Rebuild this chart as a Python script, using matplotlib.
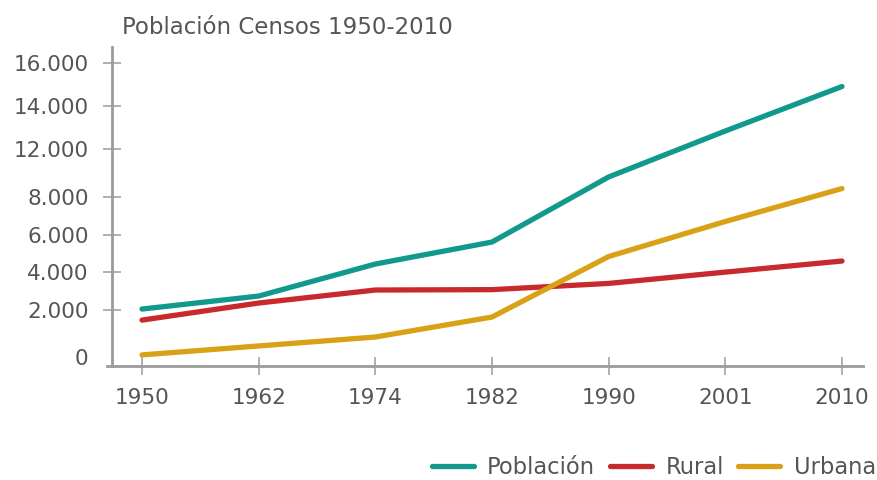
import matplotlib
matplotlib.use("Agg")
import matplotlib.pyplot as plt
import numpy as np

plt.rcParams['font.family'] = ['DejaVu Sans']

# años de censo (eje x, categórico)
anios = ["1950", "1962", "1974", "1982", "1990", "2001", "2010"]

# series (habitantes, miles)
poblacion = [2050, 2740, 4440, 5610, 9660, 12830, 14900]
rural = [1570, 2370, 3060, 3080, 3410, 4010, 4600]
urbana = [90, 470, 850, 1700, 4840, 6700, 8700]

# etiquetas del eje y (la escala original no es lineal, falta el 10.000)
y_vals = [0, 2000, 4000, 6000, 8000, 12000, 14000, 16000]
y_labels = ["0", "2.000", "4.000", "6.000", "8.000", "12.000", "14.000", "16.000"]
# altura de cada etiqueta sobre el eje, tal como está dibujada
y_slots = [9, 56, 93.7, 131.3, 169, 217.3, 260, 303.3]

c_pob = "#12998d"
c_rur = "#c8292d"
c_urb = "#d9a216"
gris = "#9b9b9b"
texto = "#555555"


def _lin(v, xs, ys):
    v = np.asarray(v, dtype=float)
    out = np.interp(v, xs, ys)
    lo_slope = (ys[1] - ys[0]) / (xs[1] - xs[0])
    hi_slope = (ys[-1] - ys[-2]) / (xs[-1] - xs[-2])
    out = np.where(v < xs[0], ys[0] + (v - xs[0]) * lo_slope, out)
    out = np.where(v > xs[-1], ys[-1] + (v - xs[-1]) * hi_slope, out)
    return out


def fwd(v):
    return _lin(v, y_vals, y_slots)


def inv(s):
    return _lin(s, y_slots, y_vals)


fig = plt.figure(figsize=(8.78, 4.80), dpi=100)
ax = fig.add_axes([107 / 878, 114 / 480, 756 / 878, 319 / 480])
ax.set_yscale('function', functions=(fwd, inv))

x = np.arange(len(anios))
lw = 3.8
ax.plot(x, poblacion, color=c_pob, lw=lw, solid_capstyle='round', solid_joinstyle='round', label="Población", zorder=3)
ax.plot(x, rural, color=c_rur, lw=lw, solid_capstyle='round', solid_joinstyle='round', label="Rural", zorder=3)
ax.plot(x, urbana, color=c_urb, lw=lw, solid_capstyle='round', solid_joinstyle='round', label="Urbana", zorder=4)

ax.set_xlim(-0.3, 6.18)
ax.set_ylim(float(inv(0)), float(inv(319)))

for s in ['top', 'right']:
    ax.spines[s].set_visible(False)
ax.spines['left'].set_position(('data', -0.26))
for s in ['left', 'bottom']:
    ax.spines[s].set_color(gris)
    ax.spines[s].set_linewidth(2)

ax.set_xticks(x)
ax.set_xticklabels(anios)
ax.set_yticks(y_vals)
ax.set_yticklabels(y_labels)
ax.yaxis.set_minor_locator(matplotlib.ticker.NullLocator())
ax.tick_params(axis='both', direction='inout', length=13, width=1.1, color=gris,
               labelcolor=texto, labelsize=15.5)
ax.tick_params(axis='y', pad=10)
ax.tick_params(axis='x', pad=9)
ax.yaxis.get_major_ticks()[0].tick1line.set_visible(False)

fig.text(122 / 878, 1 - 28 / 480, "Población Censos 1950-2010", fontsize=16.5,
         color=texto, va='center', ha='left')

fig.legend(loc='center right', bbox_to_anchor=(1.021, 1 - 467 / 480), ncol=3,
           frameon=False, fontsize=16.3, handlelength=1.85, handletextpad=0.6,
           columnspacing=0.65, labelcolor=texto)

fig.savefig("out.png", dpi=100)
